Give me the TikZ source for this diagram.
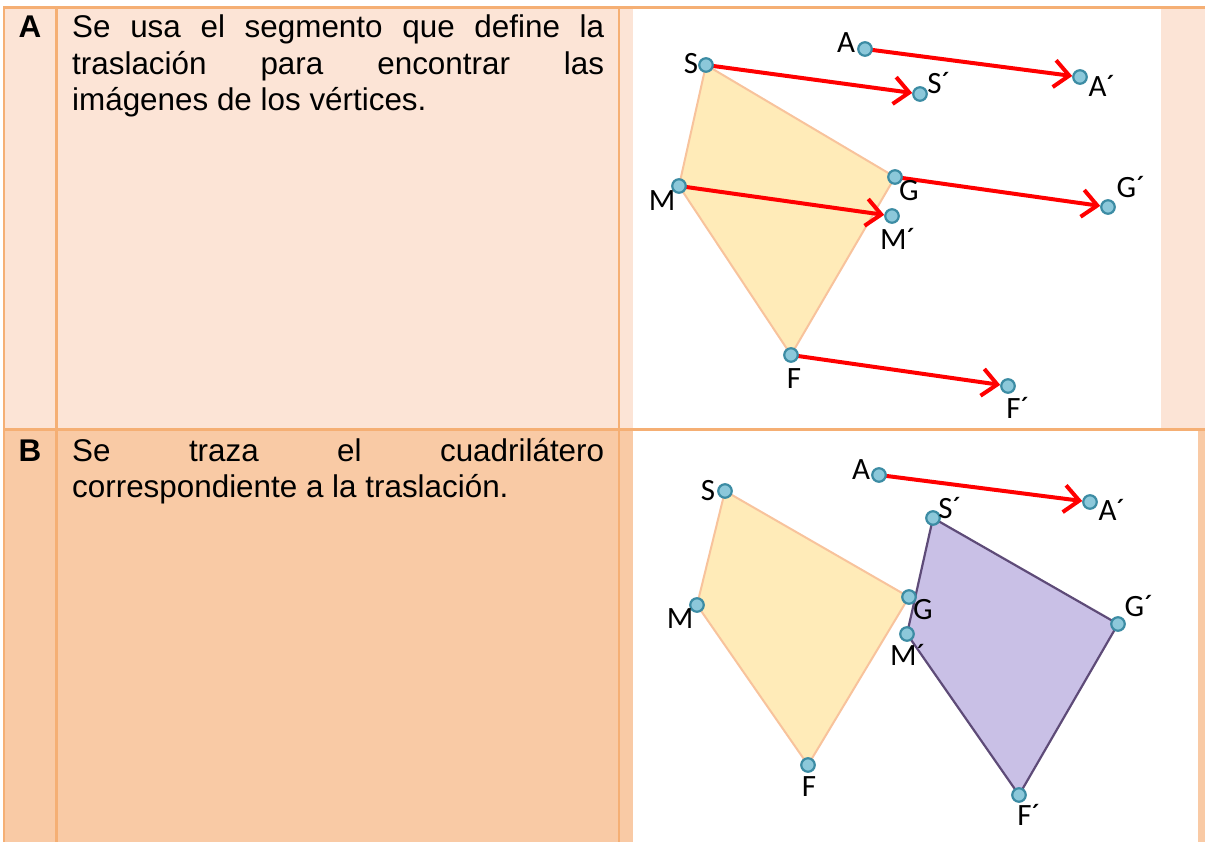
\documentclass[tikz,border=0pt]{standalone}
\usepackage{fontspec}
\newfontfamily\arialfont{Liberation Sans}
\newfontfamily\calfont{Carlito}
\usetikzlibrary{arrows.meta}
\pgfdeclarelayer{back}
\pgfdeclarelayer{bg}
\pgfsetlayers{back,bg,main}
\definecolor{rowAcol}{HTML}{FCE4D6}
\definecolor{rowBcol}{HTML}{F9CAA5}
\definecolor{bordercol}{HTML}{F5AF74}
\definecolor{dotfill}{HTML}{8CC8DA}
\definecolor{dotline}{HTML}{3C8CA4}
\definecolor{polyAfill}{HTML}{FFEBB8}
\definecolor{polyAline}{HTML}{F8C39C}
\definecolor{polyBfill}{HTML}{C9C0E6}
\definecolor{polyBline}{HTML}{5E4B78}
\definecolor{arrowred}{HTML}{FF0000}
\tolerance=10000
\hbadness=10000
\tikzset{
  dot/.style={circle, fill=dotfill, draw=dotline, line width=2.2pt, minimum size=13.5pt, inner sep=0pt},
  ptlabel/.style={font=\calfont\fontsize{31pt}{34pt}\selectfont, inner sep=0pt, text=black},
  transarrow/.style={draw=arrowred, line width=4pt, -{Straight Barb[length=15pt,width=27pt]}},
  figorig/.style={fill=polyAfill, draw=polyAline, line width=2pt, line join=round},
  figimg/.style={fill=polyBfill, draw=polyBline, line width=2.2pt, line join=round},
  bodytext/.style={font=\arialfont\fontsize{31.4pt}{36.4pt}\selectfont, inner sep=0pt, text width=532pt, align=justify, anchor=north west},
  rowletter/.style={font=\arialfont\bfseries\fontsize{31.4pt}{36.4pt}\selectfont, inner sep=0pt, anchor=base},
  border/.style={draw=bordercol, line width=2.6pt}
}
\begin{document}
\begin{tikzpicture}[x=1pt,y=-1pt]
\useasboundingbox (0,0) rectangle (1205,842);
\begin{pgfonlayer}{back}
% cell backgrounds
\fill[rowAcol] (3,7) rectangle (1205,429);
\fill[rowBcol] (3,429) rectangle (1205,842);
\fill[white] (633,9) rectangle (1161,428);
\fill[white] (633,431) rectangle (1198,842);
% borders
\draw[border] (3,7.5) -- (1205,7.5);
\draw[border] (3,429.5) -- (1205,429.5);
\draw[border] (4,6.2) -- (4,842);
\draw[border] (56.5,6.2) -- (56.5,842);
\draw[border] (619,6.2) -- (619,842);
\end{pgfonlayer}
% texts
\node[rowletter] (letA) at (30,37.5) {A};
\node[rowletter] (letB) at (30,461) {B};
\node[bodytext] (txtA) at (72,12) {\strut Se usa el segmento que define la\linebreak traslación para encontrar las\linebreak imágenes de los vértices.};
\node[bodytext] (txtB) at (72,435.5) {\strut Se traza el cuadrilátero\linebreak correspondiente a la traslación.};
% ---------- panel A points ----------
\node[dot] (A1) at (865,49) {};
\node[dot] (A1p) at (1080,77) {};
\node[dot] (S1) at (706,65) {};
\node[dot] (S1p) at (920,94) {};
\node[dot] (G1) at (895,177) {};
\node[dot] (G1p) at (1108,207) {};
\node[dot] (M1) at (679,186) {};
\node[dot] (M1p) at (892,216) {};
\node[dot] (F1) at (791,355) {};
\node[dot] (F1p) at (1008,386) {};
\begin{pgfonlayer}{bg}
\filldraw[figorig] (S1.center) -- (G1.center) -- (F1.center) -- (M1.center) -- cycle;
\draw[transarrow] (A1.center) -- (A1p);
\draw[transarrow] (S1.center) -- (S1p);
\draw[transarrow] (G1.center) -- (G1p);
\draw[transarrow] (M1.center) -- (M1p);
\draw[transarrow] (F1.center) -- (F1p);
\end{pgfonlayer}
\node[ptlabel] (lA1) at (846,43) {A};
\node[ptlabel] (lA1p) at (1102,86) {A´};
\node[ptlabel] (lS1) at (691,64) {S};
\node[ptlabel] (lS1p) at (939,83) {S´};
\node[ptlabel] (lG1) at (909,191) {G};
\node[ptlabel] (lG1p) at (1131,187) {G´};
\node[ptlabel] (lM1) at (662,201) {M};
\node[ptlabel] (lM1p) at (898,239) {M´};
\node[ptlabel] (lF1) at (794,379) {F};
\node[ptlabel] (lF1p) at (1018,408) {F´};
% ---------- panel B points ----------
\node[dot] (A2) at (879,475) {};
\node[dot] (A2p) at (1090,502) {};
\node[dot] (S2) at (725,491) {};
\node[dot] (S2p) at (933,518) {};
\node[dot] (G2) at (909,597) {};
\node[dot] (G2p) at (1118,624) {};
\node[dot] (M2) at (697,605) {};
\node[dot] (M2p) at (907,634) {};
\node[dot] (F2) at (808,765) {};
\node[dot] (F2p) at (1019,795) {};
\begin{pgfonlayer}{bg}
\filldraw[figorig] (S2.center) -- (G2.center) -- (F2.center) -- (M2.center) -- cycle;
\filldraw[figimg] (S2p.center) -- (G2p.center) -- (F2p.center) -- (M2p.center) -- cycle;
\draw[transarrow] (A2.center) -- (A2p);
\end{pgfonlayer}
\node[ptlabel] (lA2) at (861,470) {A};
\node[ptlabel] (lA2p) at (1112,510) {A´};
\node[ptlabel] (lS2) at (708,491) {S};
\node[ptlabel] (lS2p) at (950,508) {S´};
\node[ptlabel] (lG2) at (923,610) {G};
\node[ptlabel] (lG2p) at (1139,606) {G´};
\node[ptlabel] (lM2) at (680,619) {M};
\node[ptlabel] (lM2p) at (908,655) {M´};
\node[ptlabel] (lF2) at (809,787) {F};
\node[ptlabel] (lF2p) at (1029,815) {F´};
\end{tikzpicture}
\end{document}
